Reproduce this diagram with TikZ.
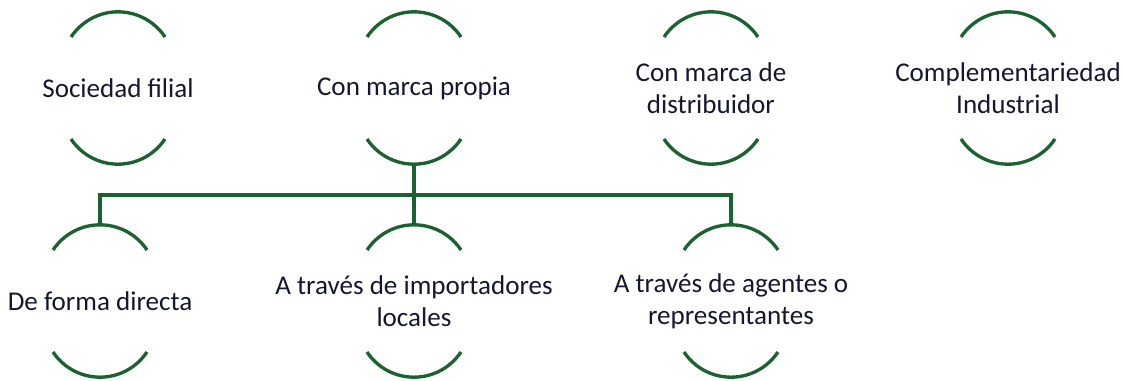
\documentclass[tikz,border=0pt]{standalone}
\usepackage{fontspec}
\setmainfont{Carlito}
\definecolor{brkgreen}{RGB}{26,98,48}
\definecolor{txtcol}{RGB}{22,22,48}
\begin{document}
\begin{tikzpicture}[x=0.75pt,y=0.75pt,
  arcline/.style={draw=brkgreen,line width=2.5pt},
  conn/.style={draw=brkgreen,line width=2.5pt},
  lbl/.style={text=txtcol,align=center,inner sep=0pt,font=\fontsize{20.3}{24}\selectfont},
  pics/item/.style={code={
    \draw[arcline] (47,51) arc[start angle=33.6,end angle=146.4,radius=56.4];
    \draw[arcline] (-47,-51) arc[start angle=213.6,end angle=326.4,radius=56.4];
    \node[lbl] (-t) at (0,0) {#1};
    \coordinate (-top) at (0,76);
    \coordinate (-bot) at (0,-76);
  }}]
\useasboundingbox (0,0) rectangle (1122,380);
\pic (sf)  at (118,292) {item={Sociedad filial}};
\pic (cmp) at (414,292) {item={Con marca propia}};
\pic (cmd) at (711,292) {item={Con marca de\\distribuidor}};
\pic (ci)  at (1008,292) {item={Complementariedad\\Industrial}};
\pic (dfd) at (100,79) {item={De forma directa}};
\pic (imp) at (414,79) {item={A través de importadores\\locales}};
\pic (age) at (731,79) {item={A través de agentes o\\representantes}};
\coordinate (bus) at (0,185);
\draw[conn] (cmp-bot) -- (imp-top);
\draw[conn] (dfd-top) |- (bus -| age-top) -- (age-top);
\end{tikzpicture}
\end{document}
